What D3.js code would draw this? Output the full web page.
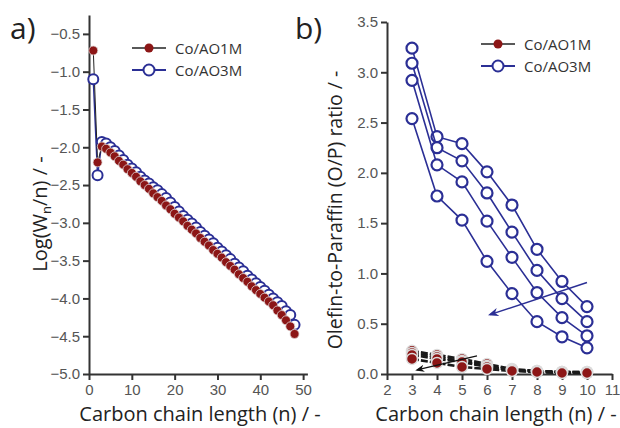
<!DOCTYPE html>
<html>
<head>
<meta charset="utf-8">
<script src="https://cdn.jsdelivr.net/npm/d3@7"></script>
<style>
  body { margin: 0; background: #fff; }
  svg { font-family: "Open Sans", "Noto Sans", sans-serif; }
  .axis path, .axis line { stroke: #333; stroke-width: 2; }
  .axis text { fill: #555; font-size: 15px; }
</style>
</head>
<body>
<div id="chart"></div>
<script>

// panel a) : Log(Wn/n) against carbon number
const carbonA = [1,2,3,4,5,6,7,8,9,10,11,12,13,14,15,16,17,18,19,20,21,22,23,24,
                 25,26,27,28,29,30,31,32,33,34,35,36,37,38,39,40,41,42,43,44,45,46,47,48];
const logAO1M = [-0.72,-2.20,-1.99,-2.02,-2.07,-2.12,-2.18,-2.23,-2.29,-2.34,-2.39,-2.45,
                 -2.50,-2.55,-2.61,-2.66,-2.71,-2.77,-2.82,-2.88,-2.93,-2.98,-3.04,-3.09,
                 -3.14,-3.20,-3.25,-3.30,-3.36,-3.41,-3.46,-3.52,-3.57,-3.62,-3.68,-3.73,
                 -3.78,-3.84,-3.89,-3.94,-3.99,-4.04,-4.09,-4.16,-4.22,-4.29,-4.37,-4.47];
const logAO3M = [-1.10,-2.37,-1.93,-1.95,-2.00,-2.05,-2.11,-2.17,-2.23,-2.28,-2.33,-2.39,
                 -2.44,-2.48,-2.53,-2.57,-2.62,-2.67,-2.73,-2.79,-2.85,-2.91,-2.96,-3.01,
                 -3.06,-3.12,-3.17,-3.22,-3.27,-3.33,-3.38,-3.43,-3.48,-3.54,-3.59,-3.64,
                 -3.70,-3.75,-3.80,-3.85,-3.90,-3.95,-4.00,-4.05,-4.10,-4.17,-4.22,-4.35];

// panel b) : olefin to paraffin ratio, 4 runs per catalyst
const carbonB = [3,4,5,6,7,8,9,10];
const opAO3M = [
  [3.24,2.36,2.29,2.01,1.68,1.24,0.92,0.67],
  [3.09,2.25,2.12,1.80,1.41,1.03,0.75,0.52],
  [2.92,2.08,1.91,1.52,1.16,0.81,0.56,0.38],
  [2.54,1.77,1.53,1.12,0.80,0.52,0.37,0.26]
];
const opAO1M = [
  [0.23,0.19,0.15,0.10,0.05,0.03,0.02,0.02],
  [0.21,0.17,0.13,0.08,0.04,0.03,0.02,0.02],
  [0.19,0.15,0.12,0.07,0.04,0.02,0.02,0.01],
  [0.15,0.11,0.07,0.05,0.03,0.02,0.01,0.01]
];
// trend arrows, in data units [x1,y1,x2,y2]
const arrowAO3M = [10.0,0.91,6.12,0.59];
const arrowAO1M = [5.6,0.18,3.2,0.04];

const ticksAx = [0,10,20,30,40,50];
const ticksAy = [-0.5,-1.0,-1.5,-2.0,-2.5,-3.0,-3.5,-4.0,-4.5,-5.0];
const ticksBx = [2,3,4,5,6,7,8,9,10,11];
const ticksBy = [0,0.5,1,1.5,2,2.5,3,3.5];
const legendNames = ["Co/AO1M","Co/AO3M"];

const BLUE = "#2b2f95";
const RED = "#8c1616";

const svg = d3.select("#chart").append("svg")
    .attr("width", 620)
    .attr("height", 428);

const defs = svg.append("defs");
function marker(id, color) {
    defs.append("marker")
        .attr("id", id)
        .attr("viewBox", "0 0 10 10")
        .attr("refX", 8).attr("refY", 5)
        .attr("markerWidth", 7).attr("markerHeight", 7)
        .attr("orient", "auto")
        .append("path")
        .attr("d", "M0,1 L10,5 L0,9 L3,5 Z")
        .attr("fill", color);
}
marker("arrBlue", BLUE);
marker("arrBlack", "#111");

// ---------- panel a ----------
const xA = d3.scaleLinear().domain([0,51]).range([89,307.4]);
const yA = d3.scaleLinear().domain([-5,-0.25]).range([374,15]);

svg.append("g").attr("class","axis")
    .attr("transform","translate(0,374)")
    .call(d3.axisBottom(xA).tickValues(ticksAx).tickSize(6).tickSizeOuter(0).tickPadding(4));
svg.append("g").attr("class","axis")
    .attr("transform","translate(89,0)")
    .call(d3.axisLeft(yA).tickValues(ticksAy).tickSize(6).tickSizeOuter(0).tickFormat(d3.format(".1f")));

const lineA = d3.line().x((d,i) => xA(carbonA[i])).y(d => yA(d));
svg.append("path").datum(logAO3M)
    .attr("d", lineA).attr("fill","none").attr("stroke",BLUE).attr("stroke-width",1.5);
svg.append("path").datum(logAO1M)
    .attr("d", lineA).attr("fill","none").attr("stroke","#222").attr("stroke-width",1);

svg.append("g").selectAll("circle").data(logAO3M).join("circle")
    .attr("cx",(d,i) => xA(carbonA[i])).attr("cy", d => yA(d)).attr("r",5)
    .attr("fill","#fff").attr("stroke",BLUE).attr("stroke-width",2);
svg.append("g").selectAll("circle").data(logAO1M).join("circle")
    .attr("cx",(d,i) => xA(carbonA[i])).attr("cy", d => yA(d)).attr("r",4.5)
    .attr("fill",RED).attr("stroke","#e0d6d6").attr("stroke-width",0.8);

// ---------- panel b ----------
const xB = d3.scaleLinear().domain([2,11]).range([387,612]);
const yB = d3.scaleLinear().domain([0,3.5]).range([374,22]);

svg.append("g").attr("class","axis")
    .attr("transform","translate(0,374)")
    .call(d3.axisBottom(xB).tickValues(ticksBx).tickSize(6).tickSizeOuter(0).tickPadding(4));
svg.append("g").attr("class","axis")
    .attr("transform","translate(387,0)")
    .call(d3.axisLeft(yB).tickValues(ticksBy).tickSize(6).tickSizeOuter(0).tickFormat(d3.format(".1f")));

const lineB = d3.line().x((d,i) => xB(carbonB[i])).y(d => yB(d));

opAO1M.forEach(function(run){
    svg.append("path").datum(run).attr("d", lineB)
        .attr("fill","none").attr("stroke","#1a1a1a").attr("stroke-width",2.6)
        .attr("stroke-dasharray","7,2");
});
opAO1M.forEach(function(run){
    svg.append("g").selectAll("circle").data(run).join("circle")
        .attr("cx",(d,i) => xB(carbonB[i])).attr("cy", d => yB(d)).attr("r",5.5)
        .attr("fill",RED).attr("stroke","#ddd").attr("stroke-width",1.5);
});

opAO3M.forEach(function(run){
    svg.append("path").datum(run).attr("d", lineB)
        .attr("fill","none").attr("stroke",BLUE).attr("stroke-width",1.6);
    svg.append("g").selectAll("circle").data(run).join("circle")
        .attr("cx",(d,i) => xB(carbonB[i])).attr("cy", d => yB(d)).attr("r",5.5)
        .attr("fill","#fff").attr("stroke",BLUE).attr("stroke-width",2.2);
});

svg.append("line")
    .attr("x1",xB(arrowAO3M[0])).attr("y1",yB(arrowAO3M[1]))
    .attr("x2",xB(arrowAO3M[2])).attr("y2",yB(arrowAO3M[3]))
    .attr("stroke",BLUE).attr("stroke-width",1.5).attr("marker-end","url(#arrBlue)");
svg.append("line")
    .attr("x1",xB(arrowAO1M[0])).attr("y1",yB(arrowAO1M[1]))
    .attr("x2",xB(arrowAO1M[2])).attr("y2",yB(arrowAO1M[3]))
    .attr("stroke","#111").attr("stroke-width",1.3).attr("marker-end","url(#arrBlack)");

// ---------- legends ----------
function legend(x0, y0) {
    const g = svg.append("g");
    legendNames.forEach(function(name, i){
        const y = y0 + i*22;
        g.append("line").attr("x1",x0).attr("x2",x0+34).attr("y1",y).attr("y2",y)
            .attr("stroke", i == 0 ? "#222" : BLUE).attr("stroke-width", i == 0 ? 1.5 : 1.8);
        if (i == 0) {
            g.append("circle").attr("cx",x0+17).attr("cy",y).attr("r",4.5).attr("fill",RED);
        } else {
            g.append("circle").attr("cx",x0+17).attr("cy",y).attr("r",5.5)
                .attr("fill","#fff").attr("stroke",BLUE).attr("stroke-width",2);
        }
        g.append("text").attr("x",x0+43).attr("y",y+5.5)
            .attr("font-size",15).attr("fill","#333").text(name);
    });
}
legend(132, 48);
legend(481, 44);

// ---------- titles ----------
svg.append("text").attr("x",10).attr("y",39).attr("font-size",30).attr("fill","#222").text("a)");
svg.append("text").attr("x",295).attr("y",39).attr("font-size",30).attr("fill","#222").text("b)");

svg.append("text").attr("x",200).attr("y",421).attr("text-anchor","middle")
    .attr("font-size",20).attr("fill","#222").text("Carbon chain length (n) / -");
svg.append("text").attr("x",496).attr("y",421).attr("text-anchor","middle")
    .attr("font-size",20).attr("fill","#222").text("Carbon chain length (n) / -");

const tA = svg.append("text").attr("transform","translate(47,214) rotate(-90)")
    .attr("text-anchor","middle").attr("font-size",20).attr("fill","#222");
tA.append("tspan").text("Log(W");
tA.append("tspan").attr("font-size",13).attr("dy",4).text("n");
tA.append("tspan").attr("dy",-4).text("/n) / -");

svg.append("text").attr("transform","translate(342,210) rotate(-90)")
    .attr("text-anchor","middle").attr("font-size",19.5).attr("fill","#222")
    .text("Olefin-to-Paraffin (O/P) ratio / -");

</script>
</body>
</html>
